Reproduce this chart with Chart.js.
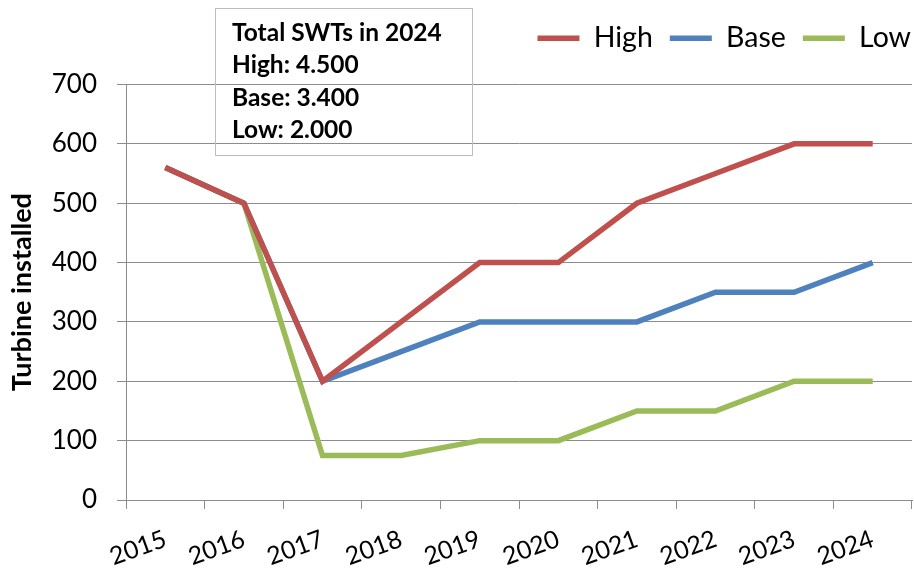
<!DOCTYPE html>
<html>
<head>
<meta charset="utf-8">
<script src="https://cdn.jsdelivr.net/npm/chart.js@4"></script>
<style>
  html, body { margin: 0; padding: 0; background: #fff; }
  #wrap { width: 914px; height: 577px; }
</style>
</head>
<body>
<div id="wrap"><canvas id="chart"></canvas></div>
<script>
// data
const years      = ['2015', '2016', '2017', '2018', '2019', '2020', '2021', '2022', '2023', '2024'];
const highValues = [560, 500, 200, 300, 400, 400, 500, 550, 600, 600];
const baseValues = [560, 500, 200, 250, 300, 300, 300, 350, 350, 400];
const lowValues  = [560, 500,  75,  75, 100, 100, 150, 150, 200, 200];
const yMax  = 700;
const yStep = 100;
const noteLines = ['Total SWTs in 2024', 'High: 4.500', 'Base: 3.400', 'Low: 2.000'];

const FONT = 'Lato, "Open Sans", sans-serif';
const GRID = '#8c8c8c';

const notePlugin = {
  id: 'note',
  beforeUpdate(chart) {
    // give the legend extra room below it so the plot starts lower
    const lg = chart.legend;
    if (lg && !lg._patched) {
      const fit = lg.fit;
      lg.fit = function () { fit.call(this); this.height += 22; };
      lg._patched = true;
    }
  },
  afterLayout(chart) {
    // push legend items against the right edge
    if (chart.legend) chart.legend.right += 16;
  },
  // text box in the upper left (drawn over the grid, no fill)
  afterDraw(chart) {
    const ctx = chart.ctx;
    ctx.save();
    ctx.strokeStyle = '#bdbdbd';
    ctx.lineWidth = 1;
    ctx.strokeRect(215.5, 8.5, 257, 147);
    ctx.fillStyle = '#000';
    ctx.font = `bold 24.5px ${FONT}`;
    ctx.textBaseline = 'alphabetic';
    noteLines.forEach((t, i) => ctx.fillText(t, 232, 41 + i * 32.3));
    ctx.restore();
  }
};

const ds = (label, data, color) => ({
  label, data,
  borderColor: color,
  backgroundColor: color,
  borderWidth: 5.5,
  pointRadius: 0,
  tension: 0,
  borderJoinStyle: 'miter'
});

new Chart(document.getElementById('chart'), {
  type: 'line',
  data: {
    labels: years,
    datasets: [
      ds('High', highValues, '#c0504d'),
      ds('Base', baseValues, '#4f81bd'),
      ds('Low',  lowValues,  '#9bbb59')
    ]
  },
  options: {
    responsive: true,
    maintainAspectRatio: false,
    animation: false,
    layout: { padding: { top: 7, right: 2, left: 0, bottom: 0 } },
    plugins: {
      tooltip: { enabled: false },
      legend: {
        position: 'top',
        align: 'end',
        labels: {
          usePointStyle: true,
          pointStyle: 'line',
          pointStyleWidth: 42,
          boxHeight: 26,
          padding: 17,
          color: '#000',
          font: { family: FONT, size: 28.5 }
        }
      }
    },
    scales: {
      x: {
        offset: true,
        border: { color: GRID, width: 1 },
        grid: { offset: true, drawOnChartArea: false, drawTicks: true, tickLength: 9, color: GRID },
        ticks: {
          color: '#000',
          minRotation: 20,
          maxRotation: 20,
          padding: 15,
          font: { family: FONT, size: 25 }
        },
        afterFit: s => { s.height = 77; }
      },
      y: {
        min: 0,
        max: yMax,
        border: { color: GRID, width: 1 },
        grid: { color: GRID, tickLength: 9 },
        ticks: {
          stepSize: yStep,
          color: '#000',
          padding: 20,
          font: { family: FONT, size: 26 }
        },
        title: {
          display: true,
          text: 'Turbine installed',
          color: '#000',
          font: { family: FONT, size: 27, weight: 'bold' },
          padding: { top: 6, bottom: 0 }
        },
        afterFit: s => { s.width = 126; }
      }
    }
  },
  plugins: [notePlugin]
});
</script>
</body>
</html>
